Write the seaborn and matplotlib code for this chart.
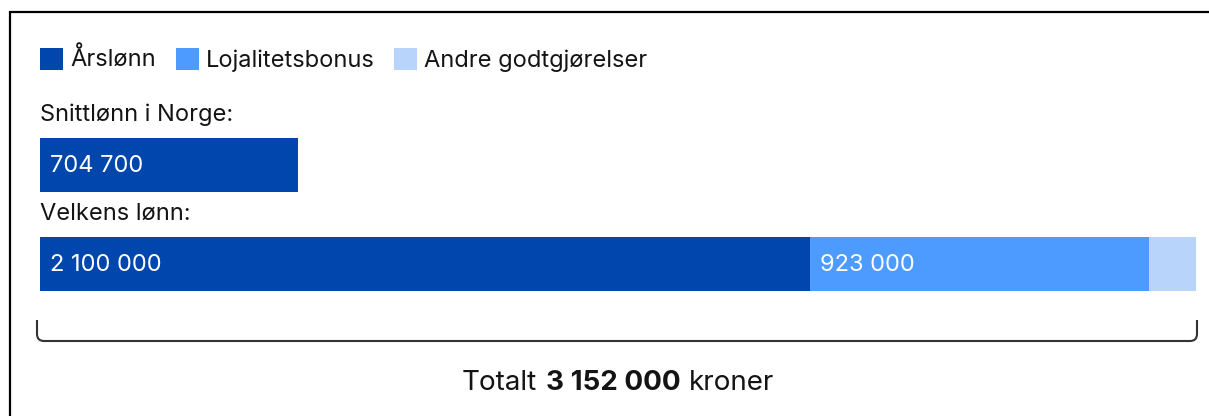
import numpy as np
import pandas as pd
import matplotlib
matplotlib.use("Agg")
import matplotlib.pyplot as plt
import seaborn as sns
from matplotlib.patches import Patch, Rectangle, PathPatch
from matplotlib.path import Path
from matplotlib.offsetbox import TextArea, HPacker, AnnotationBbox

# data
groups = ["Snittlønn i Norge:", "Velkens lønn:"]
components = ["Årslønn", "Lojalitetsbonus", "Andre godtgjørelser"]
arslonn = [704700, 2100000]
lojalitet = [0, 923000]
andre = [0, 129000]
bar_labels = [["704 700", "", ""], ["2 100 000", "923 000", ""]]
total_text = ["Totalt", "3 152 000", "kroner"]
colors = ["#0046AD", "#4D9BFF", "#B8D4FA"]

W, H = 1209, 416
TXT = "#141414"
FS = 17

sns.set_theme(style="white")
plt.rcParams["font.family"] = ["Inter", "DejaVu Sans"]

rows = []
for i, g in enumerate(groups):
    vals = [arslonn[i], lojalitet[i], andre[i]]
    cum = np.cumsum(vals)
    for j, c in enumerate(components):
        rows.append({"gruppe": g, "del": c, "verdi": vals[j],
                     "start": cum[j] - vals[j], "slutt": cum[j]})
df = pd.DataFrame(rows)
total = df["slutt"].max()

fig = plt.figure(figsize=(W / 100, H / 100), dpi=100)
ax = fig.add_axes([40 / W, 0, 1156 / W, 1])

# stacked bars: draw cumulative ends from the outermost segment inward
for j in reversed(range(len(components))):
    sub = df[df["del"] == components[j]]
    sns.barplot(data=sub, x="slutt", y="gruppe", order=groups, orient="y",
                color=colors[j], saturation=1, width=0.545, linewidth=0,
                ax=ax)

ax.set_xlim(0, total)
ax.set_ylim(1 + (H - 264) / 99, -165 / 99)
ax.axis("off")

# group headings
for i, g in enumerate(groups):
    ax.text(0, i - 0.505, g, ha="left", va="center", fontsize=FS, color=TXT)

# value labels inside segments
for i, g in enumerate(groups):
    sub = df[df["gruppe"] == g].reset_index(drop=True)
    for j in range(len(components)):
        lab = bar_labels[i][j]
        if lab:
            ax.annotate(lab, (sub.loc[j, "start"], i + 0.01), xytext=(7.2, 0),
                        textcoords="offset points", ha="left", va="center",
                        fontsize=FS, color="white")

# bracket under the total bar
xl, xr = -3 * total / 1156, total + 1 * total / 1156
ytop, ybot = 1 + (320 - 264) / 99, 1 + (341 - 264) / 99
rx, ry = 7 * total / 1156, 7 / 99
verts = [(xl, ytop), (xl, ybot - ry), (xl, ybot), (xl + rx, ybot),
         (xr - rx, ybot), (xr, ybot), (xr, ybot - ry), (xr, ytop)]
codes = [Path.MOVETO, Path.LINETO, Path.CURVE3, Path.CURVE3,
         Path.LINETO, Path.CURVE3, Path.CURVE3, Path.LINETO]
ax.add_patch(PathPatch(Path(verts, codes), fill=False, edgecolor="#333333",
                       linewidth=1.5, clip_on=False, capstyle="butt"))

# total line with bold number
parts = [TextArea(total_text[0], textprops=dict(fontsize=20, color=TXT)),
         TextArea(total_text[1], textprops=dict(fontsize=20, color=TXT,
                                                  fontweight="bold")),
         TextArea(total_text[2], textprops=dict(fontsize=20, color=TXT))]
box = HPacker(children=parts, sep=6, pad=0, align="baseline")
ab = AnnotationBbox(box, (total / 2, 1 + (383 - 264) / 99), frameon=False,
                    box_alignment=(0.5, 0.5), pad=0)
ax.add_artist(ab)

# legend
handles = [Patch(facecolor=colors[j], edgecolor="none", label=components[j])
           for j in range(len(components))]
fig.legend(handles=handles, loc="upper left",
           bbox_to_anchor=(40 / W, 1 - 48 / H), bbox_transform=fig.transFigure,
           ncol=3, frameon=False, fontsize=FS, borderpad=0, borderaxespad=0,
           handlelength=0.97, handleheight=1.06, handletextpad=0.3,
           columnspacing=0.85, labelcolor=TXT)

# outer frame
fig.patches.append(Rectangle((10 / W, -0.2), 1.5, 1 - 12 / H + 0.2,
                             transform=fig.transFigure, fill=False,
                             edgecolor="black", linewidth=1.6))

fig.savefig("out.png", dpi=100)
